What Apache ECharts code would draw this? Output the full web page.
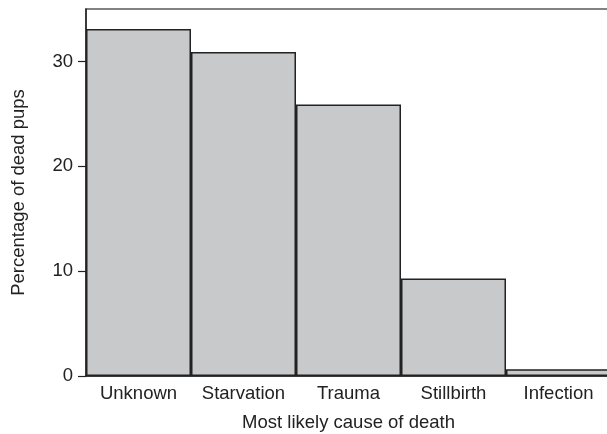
<!DOCTYPE html>
<html>
<head>
<meta charset="utf-8">
<script src="https://cdn.jsdelivr.net/npm/echarts@6/dist/echarts.min.js"></script>
<style>
html,body{margin:0;padding:0;background:#fff;}
#chart{width:607px;height:434px;}
</style>
</head>
<body>
<div id="chart"></div>
<script>
const categories = ["Unknown", "Starvation", "Trauma", "Stillbirth", "Infection"];
const percentages = [33.1, 30.9, 25.9, 9.3, 0.65];
const yTicks = [0, 10, 20, 30];

const chart = echarts.init(document.getElementById('chart'));
const font = 'Liberation Sans, Arial, Helvetica, sans-serif';
chart.setOption({
  animation: false,
  backgroundColor: '#ffffff',
  grid: {
    left: 86, top: 9, width: 525, height: 367,
    outerBoundsMode: 'none',
    show: true, borderColor: '#5a5a5a', borderWidth: 1.5, containLabel: false
  },
  xAxis: {
    type: 'category',
    data: categories,
    boundaryGap: true,
    name: 'Most likely cause of death',
    nameLocation: 'middle',
    nameGap: 37,
    nameTextStyle: { fontFamily: font, fontSize: 18.5, color: '#222' },
    axisLine: { show: true, lineStyle: { color: '#222', width: 1.5 } },
    axisTick: { show: true, alignWithLabel: true, inside: true, length: 3, lineStyle: { color: '#222' } },
    axisLabel: { fontFamily: font, fontSize: 18.5, color: '#222', margin: 8, interval: 0 },
    splitLine: { show: false }
  },
  yAxis: {
    type: 'value',
    min: 0, max: 35, interval: 10,
    name: 'Percentage of dead pups',
    nameLocation: 'middle',
    nameGap: 58,
    nameTextStyle: { fontFamily: font, fontSize: 18.5, color: '#222' },
    axisLine: { show: true, lineStyle: { color: '#222', width: 1.5 } },
    axisTick: { show: true, length: 8, customValues: yTicks, lineStyle: { color: '#222', width: 1.2 } },
    axisLabel: { fontFamily: font, fontSize: 18.5, color: '#222', margin: 13, customValues: yTicks },
    splitLine: { show: false }
  },
  series: [{
    type: 'bar',
    data: percentages,
    barCategoryGap: '0%',
    itemStyle: { color: '#c8c9cb', borderColor: '#222', borderWidth: 1.5 }
  }]
});
</script>
</body>
</html>
